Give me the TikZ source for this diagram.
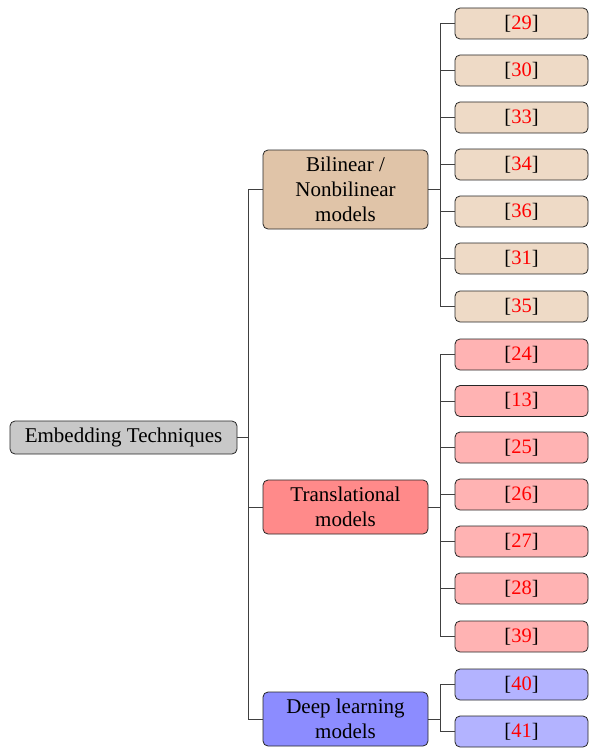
\documentclass[tikz,border=0pt]{standalone}
\usepackage{fontspec}
\setmainfont{Liberation Serif}
\definecolor{rootc}{HTML}{C8C8C8}
\definecolor{bilc}{HTML}{E0C4A8}
\definecolor{bill}{HTML}{EEDAC6}
\definecolor{trc}{HTML}{FF8A8A}
\definecolor{trl}{HTML}{FFB3B3}
\definecolor{dlc}{HTML}{8C8CFF}
\definecolor{dll}{HTML}{B3B3FF}
\definecolor{linec}{HTML}{404040}
\begin{document}
\begin{tikzpicture}[x=1pt,y=-1pt,
  box/.style={draw=black!85, line width=0.8pt, rounded corners=5pt, inner sep=0pt,
    font=\fontsize{21}{25}\selectfont, align=center},
  rootbox/.style={box, fill=rootc, minimum width=227pt, minimum height=33pt},
  midbox/.style={box, minimum width=165pt},
  leafbox/.style={box, font=\fontsize{20.5}{25}\selectfont, minimum width=133pt, minimum height=31pt},
  conn/.style={draw=linec, line width=0.8pt}]
\useasboundingbox (0,0) rectangle (589,749);
\newcommand{\rf}[1]{[\textcolor{red}{#1}]}
\node[rootbox] (root) at (123.5,437.5) {Embedding Techniques};
\node[midbox, fill=bilc, minimum height=79pt] (bil) at (345.5,189.5) {Bilinear /\\Nonbilinear\\models};
\node[midbox, fill=trc, minimum height=54pt] (tr) at (345.5,507) {Translational\\models};
\node[midbox, fill=dlc, minimum height=54pt] (dl) at (345.5,719) {Deep learning\\models};
% leaves
\foreach \n/\y in {29/23.5,30/70.5,33/117.5,34/164.5,36/211.5,31/258.5,35/306.5}
  \node[leafbox, fill=bill] (l\n) at (521.5,\y) {\rf{\n}};
\foreach \n/\y in {24/354.5,13/401,25/447.5,26/494.5,27/541.5,28/588.5,39/636.5}
  \node[leafbox, fill=trl] (l\n) at (521.5,\y) {\rf{\n}};
\foreach \n/\y in {40/684.5,41/731.5}
  \node[leafbox, fill=dll] (l\n) at (521.5,\y) {\rf{\n}};
% connectors
\coordinate (rj) at (248,437.5);
\draw[conn] (root.east) -- (rj);
\foreach \c in {bil,tr,dl} \draw[conn] (rj) |- (\c.west);
\coordinate (bj) at (440,189.5);
\draw[conn] (bil.east) -- (bj);
\foreach \n in {29,30,33,34,36,31,35} \draw[conn] (bj) |- (l\n.west);
\coordinate (tj) at (440,507);
\draw[conn] (tr.east) -- (tj);
\foreach \n in {24,13,25,26,27,28,39} \draw[conn] (tj) |- (l\n.west);
\coordinate (dj) at (440,719);
\draw[conn] (dl.east) -- (dj);
\foreach \n in {40,41} \draw[conn] (dj) |- (l\n.west);
\end{tikzpicture}
\end{document}
